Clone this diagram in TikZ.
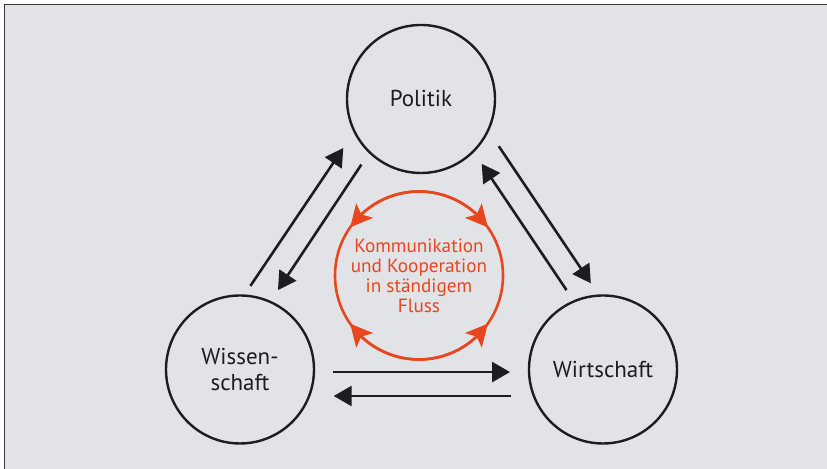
\documentclass[tikz,border=0pt]{standalone}
\usepackage{fontspec}
\setmainfont{PT Sans}
\usetikzlibrary{arrows.meta,bending}
\definecolor{grund}{HTML}{E2E3E7}
\definecolor{rahmen}{HTML}{38393D}
\definecolor{tinte}{HTML}{1C1D21}
\definecolor{flussrot}{HTML}{E8461E}
\newcommand{\kreisschrift}{\fontsize{11.5}{13}\selectfont}
\newcommand{\flussschrift}{\fontsize{9.6}{10}\selectfont}
\tikzset{bereich/.style={circle,draw=tinte,line width=1.2pt,minimum size=74pt,
    inner sep=0pt,outer sep=0pt,text=tinte,font=\kreisschrift,align=center},
  ring/.style={circle,draw=flussrot,line width=1.3pt,minimum size=84pt,
    inner sep=0pt,outer sep=0pt,text=flussrot,font=\flussschrift,align=center},
  pfeil/.style={tinte,line width=1.3pt,-{Triangle[length=9pt,width=10pt]}},
  ringpfeil/.style={flussrot,line width=1.3pt,
    -{Stealth[length=11pt,width=11pt,inset=2.5pt]}}}

\begin{document}
\begin{tikzpicture}[x=0.5pt,y=0.5pt]
\useasboundingbox (0,0) rectangle (827,469);
\fill[white] (0,0) rectangle (827,469);
\fill[grund] (4.5,0) rectangle (827,464.5);
\draw[rahmen,line width=0.9pt] (4.5,0) -- (4.5,464.5) -- (827,464.5);
\node[bereich] (pol) at (421,370) {Politik};
\node[bereich] (wiss) at (240,99.5) {Wissen-\\schaft};
\node[bereich] (wirt) at (603,99.5) {Wirtschaft};
\node[ring] (ring) at (419,193.5) {Kommunikation\\und Kooperation\\in ständigem\\Fluss};
\draw[ringpfeil] (ring.90) arc[start angle=90,end angle=145,radius=42pt];
\draw[ringpfeil] (ring.90) arc[start angle=90,end angle=35,radius=42pt];
\draw[ringpfeil] (ring.270) arc[start angle=270,end angle=215,radius=42pt];
\draw[ringpfeil] (ring.270) arc[start angle=270,end angle=325,radius=42pt];
\draw[pfeil,shorten <=5.8pt,shorten >=10pt] (wiss.87) -- (pol.206);
\draw[pfeil,shorten <=7.4pt,shorten >=7.1pt] (pol.226) -- (wiss.66);
\draw[pfeil,shorten <=9.6pt,shorten >=7.4pt] (pol.335) -- (wirt.93);
\draw[pfeil,shorten <=6.8pt,shorten >=7.5pt] (wirt.113) -- (pol.315);
\draw[pfeil,shorten <=9.5pt,shorten >=9.5pt] (wiss.358) -- (wirt.182);
\draw[pfeil,shorten <=11.3pt,shorten >=12.3pt] (wirt.201) -- (wiss.339);
\end{tikzpicture}
\end{document}
